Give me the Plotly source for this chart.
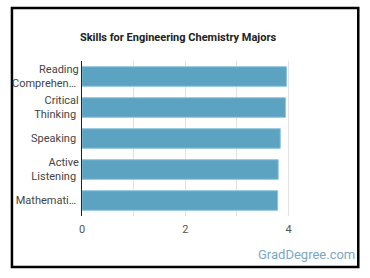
import plotly.graph_objects as go

skills = ["Reading<br>Comprehen…", "Critical<br>Thinking", "Speaking", "Active<br>Listening", "Mathemati…"]
scores = [3.96, 3.94, 3.84, 3.80, 3.79]
tick_vals = [0, 1, 2, 3, 4]
tick_text = ["0", "", "2", "", "4"]

W, H = 370, 278
ml, mr, mt, mb = 79, 66, 61, 62
pw, ph = W - ml - mr, H - mt - mb

def px_x(x):
    return (x - ml) / pw

def px_y(y):
    return (H - mb - y) / ph

fig = go.Figure(go.Bar(
    x=scores, y=skills, orientation="h",
    marker=dict(color="#5ca3c2", line=dict(color="#8cc3db", width=1)),
    width=0.63,
))

fig.update_layout(
    width=W, height=H,
    margin=dict(l=ml, r=mr, t=mt, b=mb),
    paper_bgcolor="white", plot_bgcolor="white",
    showlegend=False,
    font=dict(family="Roboto", size=11, color="#333333"),
    title=dict(text="<b>Skills for Engineering Chemistry Majors</b>",
               x=178 / W, xanchor="center", y=1 - 37 / H, yanchor="middle",
               font=dict(size=11, color="#222222", family="Roboto")),
    xaxis=dict(range=[0, 4.3], tickvals=tick_vals, ticktext=tick_text,
               showgrid=True, gridcolor="#e2e2e2", gridwidth=1,
               zeroline=False, showline=False, ticks="", ticklabelstandoff=5,
               tickfont=dict(size=11, color="#555555")),
    yaxis=dict(autorange="reversed", showline=True, linecolor="#222222", linewidth=1,
               ticks="", showgrid=False, ticksuffix=" ",
               tickfont=dict(size=11, color="#444444")),
    shapes=[dict(type="rect", xref="paper", yref="paper",
                 x0=px_x(8), x1=px_x(359), y0=px_y(267), y1=px_y(8),
                 line=dict(color="black", width=2.5), fillcolor="rgba(0,0,0,0)", layer="below")],
    annotations=[dict(text="GradDegree.com", xref="paper", yref="paper",
                      x=px_x(358), y=px_y(255), xanchor="right", yanchor="middle",
                      showarrow=False, font=dict(size=13, color="#7ba7c4", family="Roboto"))],
)

fig.write_html("out.html")
